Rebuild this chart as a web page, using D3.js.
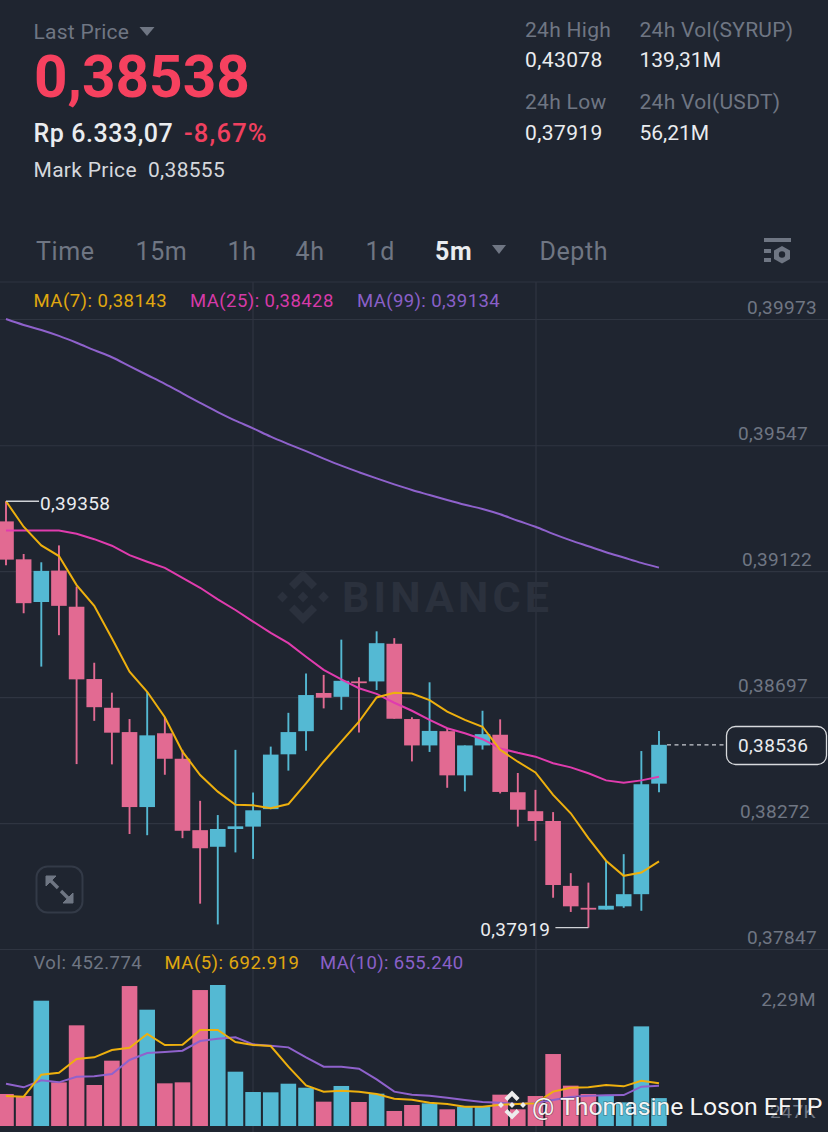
<!DOCTYPE html>
<html>
  <head>
    <meta charset="utf-8">
    <script src="https://d3js.org/d3.v7.min.js"></script>
    <title>SYRUP/USDT 5m</title>
    <style>
      html, body { margin: 0; padding: 0; background: #1f2530; }
      svg { display: block; font-family: Roboto, "Noto Sans", sans-serif; }
      .grid line, .grid path { stroke: #2f3541; stroke-width: 1.2; }
    </style>
  </head>
  <body>
    <div id="chart"></div>
    <script>
      // Candles, oldest first
      const opens = [0.39290,0.39162,0.39018,0.39124,0.39002,0.38758,0.38661,0.38579,0.38326,0.38575,0.38489,0.38248,0.38192,0.38252,0.38260,0.38319,0.38504,0.38582,0.38711,0.38698,0.38750,0.38750,0.38877,0.38623,0.38534,0.38582,0.38433,0.38534,0.38570,0.38376,0.38312,0.38279,0.38060,0.37986,0.37980,0.37991,0.38032,0.38405];
      const closes = [0.39161,0.39014,0.39123,0.39005,0.38757,0.38663,0.38577,0.38326,0.38568,0.38489,0.38246,0.38187,0.38252,0.38261,0.38315,0.38503,0.38579,0.38704,0.38695,0.38752,0.38744,0.38879,0.38624,0.38534,0.38583,0.38433,0.38534,0.38572,0.38377,0.38317,0.38279,0.38063,0.37991,0.37980,0.37993,0.38032,0.38403,0.38536];
      const highs = [0.39358,0.39180,0.39152,0.39209,0.39070,0.38813,0.38712,0.38623,0.38715,0.38629,0.38519,0.38347,0.38299,0.38519,0.38375,0.38530,0.38644,0.38777,0.38772,0.38891,0.38764,0.38919,0.38896,0.38629,0.38747,0.38593,0.38534,0.38651,0.38622,0.38441,0.38384,0.38309,0.38103,0.38071,0.38145,0.38167,0.38515,0.38583];
      const lows = [0.39142,0.38980,0.38800,0.38906,0.38471,0.38617,0.38470,0.38235,0.38231,0.38435,0.38221,0.38000,0.37930,0.38173,0.38151,0.38319,0.38449,0.38516,0.38659,0.38654,0.38578,0.38721,0.38624,0.38480,0.38512,0.38391,0.38379,0.38520,0.38372,0.38260,0.38212,0.38020,0.37972,0.37919,0.37980,0.37986,0.37976,0.38376];

      const ma7 = [0.39358,0.39272,0.39209,0.39173,0.39075,0.39005,0.38896,0.38783,0.38715,0.38629,0.38513,0.38434,0.38378,0.38334,0.38332,0.38322,0.38336,0.38406,0.38479,0.38547,0.38614,0.38696,0.38712,0.38709,0.38687,0.38648,0.38620,0.38597,0.38519,0.38479,0.38443,0.38367,0.38305,0.38221,0.38145,0.38094,0.38105,0.38143];
      const ma25 = [0.39259,0.39259,0.39259,0.39259,0.39248,0.39230,0.39208,0.39176,0.39154,0.39133,0.39099,0.39066,0.39027,0.38991,0.38952,0.38914,0.38879,0.38833,0.38789,0.38757,0.38727,0.38708,0.38678,0.38651,0.38620,0.38592,0.38575,0.38555,0.38524,0.38509,0.38496,0.38474,0.38460,0.38440,0.38416,0.38408,0.38416,0.38428];
      const ma99 = [0.39973,0.39953,0.39936,0.39916,0.39893,0.39868,0.39844,0.39814,0.39784,0.39754,0.39722,0.39690,0.39659,0.39630,0.39604,0.39576,0.39551,0.39527,0.39502,0.39478,0.39456,0.39435,0.39415,0.39396,0.39379,0.39362,0.39346,0.39332,0.39314,0.39292,0.39272,0.39248,0.39226,0.39206,0.39186,0.39168,0.39150,0.39134];

      // Volume in thousands
      const volumes = [520,487,2035,709,1635,666,1061,2273,1889,693,709,2208,2290,882,552,547,687,622,395,650,390,525,244,341,368,271,314,314,509,271,487,1169,655,520,493,384,1618,453];
      const volMa5 = [487,476,834,866,1088,1115,1234,1272,1494,1315,1321,1559,1559,1364,1315,1299,964,660,558,574,558,520,444,428,379,357,314,314,346,357,368,558,622,628,666,644,736,693];
      const volMa10 = [687,628,742,709,801,807,844,1072,1185,1202,1223,1380,1418,1440,1326,1305,1277,1115,964,964,931,758,558,509,493,460,422,390,379,357,379,422,471,493,498,503,639,655];

      const priceTicks = [0.39973,0.39547,0.39122,0.38697,0.38272,0.37847];
      const volTicks = [2290,247];
      const volTickLabels = ["2,29M","247K"];
      const tabs = ["Time","15m","1h","4h","1d","5m","Depth"];

      const WIDTH = 828, HEIGHT = 1132;
      const BG = "#1f2530", PINK = "#e26a92", BLUE = "#54b9d3";
      const YELLOW = "#eeb00e", MAGENTA = "#e03cae", PURPLE = "#8f62cc";
      const GREY = "#6f7683", WHITE = "#eaecef";

      const svg = d3.select("#chart").append("svg")
        .attr("width", WIDTH).attr("height", HEIGHT)
        .style("background", BG);

      const x = d3.scaleLinear().domain([0, opens.length - 1]).range([6, 659]);
      const y = d3.scaleLinear().domain([0.37847, 0.39973]).range([949, 319]);
      const yVol = d3.scaleLinear().domain([0, 2290]).range([1126, 985]);

      const comma = (v) => d3.format(".5f")(v).replace(".", ",");

      function txt(s, px, py, size, fill, weight, anchor, spacing) {
        return svg.append("text").text(s)
          .attr("x", px).attr("y", py)
          .attr("font-size", size).attr("fill", fill)
          .attr("font-weight", weight || 400)
          .attr("text-anchor", anchor || "start")
          .attr("letter-spacing", spacing || 0);
      }

      function tri(cx, cy, w, h, fill) {
        svg.append("path")
          .attr("d", `M${cx - w / 2},${cy}H${cx + w / 2}L${cx},${cy + h}Z`)
          .attr("fill", fill);
      }

      // Binance mark, r is half its height
      function logo(cx, cy, r, fill) {
        const polys = [
          [[0,-1],[.52,-.48],[.32,-.28],[0,-.6],[-.32,-.28],[-.52,-.48]],
          [[0,1],[.52,.48],[.32,.28],[0,.6],[-.32,.28],[-.52,.48]],
          [[0,-.2],[.2,0],[0,.2],[-.2,0]],
          [[-.76,-.2],[-.56,0],[-.76,.2],[-.96,0]],
          [[.76,-.2],[.96,0],[.76,.2],[.56,0]]
        ];
        polys.forEach((p) => {
          svg.append("polygon")
            .attr("points", p.map((q) => [cx + q[0] * r, cy + q[1] * r].join(",")).join(" "))
            .attr("fill", fill);
        });
      }

      // Header
      txt("Last Price", 33.5, 39, 21, GREY, 400, "start", 0.25);
      tri(147, 27, 15, 9, GREY);
      txt("0,38538", 34, 97, 58.5, "#f6415f", 700);
      txt("Rp 6.333,07", 33.5, 142, 25, WHITE, 500, "start", 0.55);
      txt("-8,67%", 184, 142, 25.5, "#f0405f", 500, "start", 1.2);
      txt("Mark Price", 33.5, 177, 21, "#d5d8dd", 400, "start", 0.3);
      txt("0,38555", 148, 177, 21, "#d5d8dd", 400, "start", 0.3);

      txt("24h High", 525, 37, 21, GREY, 400, "start", 0.3);
      txt("0,43078", 525, 67, 21, WHITE, 400, "start", 0.4);
      txt("24h Low", 525, 109, 21, GREY, 400, "start", 0.3);
      txt("0,37919", 525, 140, 21, WHITE, 400, "start", 0.4);
      txt("24h Vol(SYRUP)", 639.5, 37, 21, GREY, 400, "start", 0.3);
      txt("139,31M", 639.5, 67, 21, WHITE);
      txt("24h Vol(USDT)", 639.5, 109, 21, GREY, 400, "start", 0.3);
      txt("56,21M", 639.5, 140, 21, WHITE);

      // Tabs
      const tabX = [36, 135.5, 227.5, 295.5, 365.5, 435, 539.5];
      tabs.forEach((t, i) => {
        const on = t === "5m";
        txt(t, tabX[i], 260, 25, on ? WHITE : GREY, on ? 700 : 400, "start", 0.6);
      });
      tri(499, 245, 14, 9, GREY);

      // Settings icon
      svg.append("rect").attr("x", 764).attr("y", 238).attr("width", 27).attr("height", 4).attr("fill", GREY);
      svg.append("rect").attr("x", 764).attr("y", 249).attr("width", 7).attr("height", 4).attr("fill", GREY);
      svg.append("rect").attr("x", 764).attr("y", 258).attr("width", 7).attr("height", 4).attr("fill", GREY);
      svg.append("polygon").attr("points", "782,246 790,250.5 790,259 782,263.5 774,259 774,250.5").attr("fill", GREY);
      svg.append("circle").attr("cx", 782).attr("cy", 254.5).attr("r", 3.2).attr("fill", BG);

      // Separator and vertical grid
      svg.append("line").attr("x1", 0).attr("x2", WIDTH).attr("y1", 282).attr("y2", 282)
        .attr("stroke", "#2f3541").attr("stroke-width", 1.2);
      [253, 536].forEach((vx) => {
        svg.append("line").attr("x1", vx).attr("x2", vx).attr("y1", 282).attr("y2", HEIGHT)
          .attr("stroke", "#2f3541").attr("stroke-width", 1.2);
      });

      // Price axis, ticks reach across as the grid
      const labelRight = [817, 808, 812, 808, 810, 817];
      const priceAxis = svg.append("g")
        .attr("class", "grid")
        .attr("transform", `translate(${WIDTH},0)`)
        .call(d3.axisLeft(y).tickValues(priceTicks).tickSize(WIDTH).tickFormat(comma));
      priceAxis.select(".domain").remove();
      priceAxis.selectAll("text")
        .attr("x", (d, i) => labelRight[i] - WIDTH)
        .attr("y", -12)
        .attr("dy", "0.35em")
        .attr("text-anchor", "end")
        .attr("font-family", "Roboto, sans-serif")
        .attr("font-size", 19)
        .attr("letter-spacing", 0.3)
        .attr("fill", GREY);

      // Watermark
      logo(303, 597, 27, "#2b313d");
      txt("BINANCE", 342, 612, 43, "#2b313d", 700, "start", 4.1);

      // Legends
      txt("MA(7): 0,38143", 33.5, 307, 18.5, "#e0a80f", 400, "start", 0.5);
      txt("MA(25): 0,38428", 190, 307, 18.5, "#d63aa8", 400, "start", 0.45);
      txt("MA(99): 0,39134", 357, 307, 18.5, "#8a60c8", 400, "start", 0.4);
      txt("Vol: 452.774", 33.5, 969, 18.5, GREY, 400, "start", 0.5);
      txt("MA(5): 692.919", 164.5, 969, 18.5, "#e0a80f", 400, "start", 0.5);
      txt("MA(10): 655.240", 320, 969, 18.5, "#8a60c8", 400, "start", 0.35);

      // Candles
      const idx = d3.range(opens.length);
      const BODY = 15.6;
      const color = (i) => (closes[i] > opens[i] ? BLUE : PINK);

      svg.append("g").selectAll("line").data(idx).join("line")
        .attr("x1", (i) => x(i)).attr("x2", (i) => x(i))
        .attr("y1", (i) => y(highs[i])).attr("y2", (i) => y(lows[i]))
        .attr("stroke", color).attr("stroke-width", 1.9);

      svg.append("g").selectAll("rect").data(idx).join("rect")
        .attr("x", (i) => x(i) - BODY / 2)
        .attr("width", BODY)
        .attr("y", (i) => y(Math.max(opens[i], closes[i])))
        .attr("height", (i) => Math.abs(y(opens[i]) - y(closes[i])))
        .attr("fill", color);

      // Price moving averages
      const priceLine = d3.line().x((d, i) => x(i)).y((d) => y(d));
      svg.append("path").attr("d", priceLine.curve(d3.curveMonotoneX)(ma99))
        .attr("fill", "none").attr("stroke", PURPLE).attr("stroke-width", 2);
      priceLine.curve(d3.curveLinear);
      [[ma25, MAGENTA], [ma7, YELLOW]].forEach(([s, c]) => {
        svg.append("path").attr("d", priceLine(s))
          .attr("fill", "none").attr("stroke", c).attr("stroke-width", 2);
      });

      // High / low callouts
      const hiI = d3.maxIndex(highs), loI = d3.minIndex(lows);
      svg.append("line").attr("x1", x(hiI)).attr("x2", x(hiI) + 33)
        .attr("y1", y(highs[hiI])).attr("y2", y(highs[hiI]))
        .attr("stroke", "#cfd2d6").attr("stroke-width", 1.3);
      txt(comma(highs[hiI]), x(hiI) + 34, 510, 19, WHITE, 400, "start", 0.35);
      svg.append("line").attr("x1", x(loI)).attr("x2", x(loI) - 33)
        .attr("y1", y(lows[loI])).attr("y2", y(lows[loI]))
        .attr("stroke", "#cfd2d6").attr("stroke-width", 1.3);
      txt(comma(lows[loI]), x(loI) - 38, 936, 19, WHITE, 400, "end", 0.35);

      // Current price tag
      const last = closes[closes.length - 1];
      svg.append("line").attr("x1", 667).attr("x2", 725)
        .attr("y1", y(last)).attr("y2", y(last))
        .attr("stroke", "#c9ccd1").attr("stroke-width", 1.2).attr("stroke-dasharray", "4 3.5");
      svg.append("rect").attr("x", 726.5).attr("y", 726.5).attr("width", 100).attr("height", 38).attr("rx", 9)
        .attr("fill", BG).attr("stroke", "#d8dadd").attr("stroke-width", 1.3);
      txt(comma(last), 738, 752, 19, WHITE, 400, "start", 0.35);

      // Expand button
      svg.append("rect").attr("x", 36.5).attr("y", 866.5).attr("width", 46).attr("height", 46).attr("rx", 11)
        .attr("fill", "none").attr("stroke", "#333a47").attr("stroke-width", 2);
      svg.append("g").attr("fill", "#6f7683").attr("stroke", "#6f7683").selectAll("path")
        .data(["M46,876H56L46,886Z", "M73,903H63L73,893Z"]).join("path").attr("d", (d) => d);
      svg.append("g").attr("stroke", "#6f7683").attr("stroke-width", 3.4).selectAll("line")
        .data([[49, 879, 58, 888], [61, 891, 70, 900]]).join("line")
        .attr("x1", (d) => d[0]).attr("y1", (d) => d[1]).attr("x2", (d) => d[2]).attr("y2", (d) => d[3]);

      // Volume
      svg.append("g").selectAll("rect").data(idx).join("rect")
        .attr("x", (i) => x(i) - BODY / 2)
        .attr("width", BODY)
        .attr("y", (i) => yVol(volumes[i]))
        .attr("height", (i) => yVol(0) - yVol(volumes[i]))
        .attr("fill", color);

      const volLine = d3.line().x((d, i) => x(i)).y((d) => yVol(d));
      [[volMa10, PURPLE], [volMa5, YELLOW]].forEach(([s, c]) => {
        svg.append("path").attr("d", volLine(s))
          .attr("fill", "none").attr("stroke", c).attr("stroke-width", 2);
      });

      const volAxis = svg.append("g")
        .attr("transform", `translate(${WIDTH},0)`)
        .call(d3.axisLeft(yVol).tickValues(volTicks).tickSize(0)
          .tickFormat((d, i) => volTickLabels[i]));
      volAxis.select(".domain").remove();
      volAxis.selectAll("text")
        .attr("x", -12)
        .attr("y", (d, i) => (i === 0 ? 20 : 7))
        .attr("dy", 0)
        .attr("text-anchor", "end")
        .attr("font-family", "Roboto, sans-serif")
        .attr("font-size", 19)
        .attr("letter-spacing", 0.5)
        .attr("fill", GREY);

      // Poster credit over the chart
      logo(512, 1105, 14.5, "#ececec");
      txt("@ Thomasine Loson EFTP", 532, 1115, 24.8, "#f4f4f4")
        .style("paint-order", "stroke")
        .attr("stroke", "rgba(20,20,20,0.35)").attr("stroke-width", 1.5);
    </script>
  </body>
</html>
